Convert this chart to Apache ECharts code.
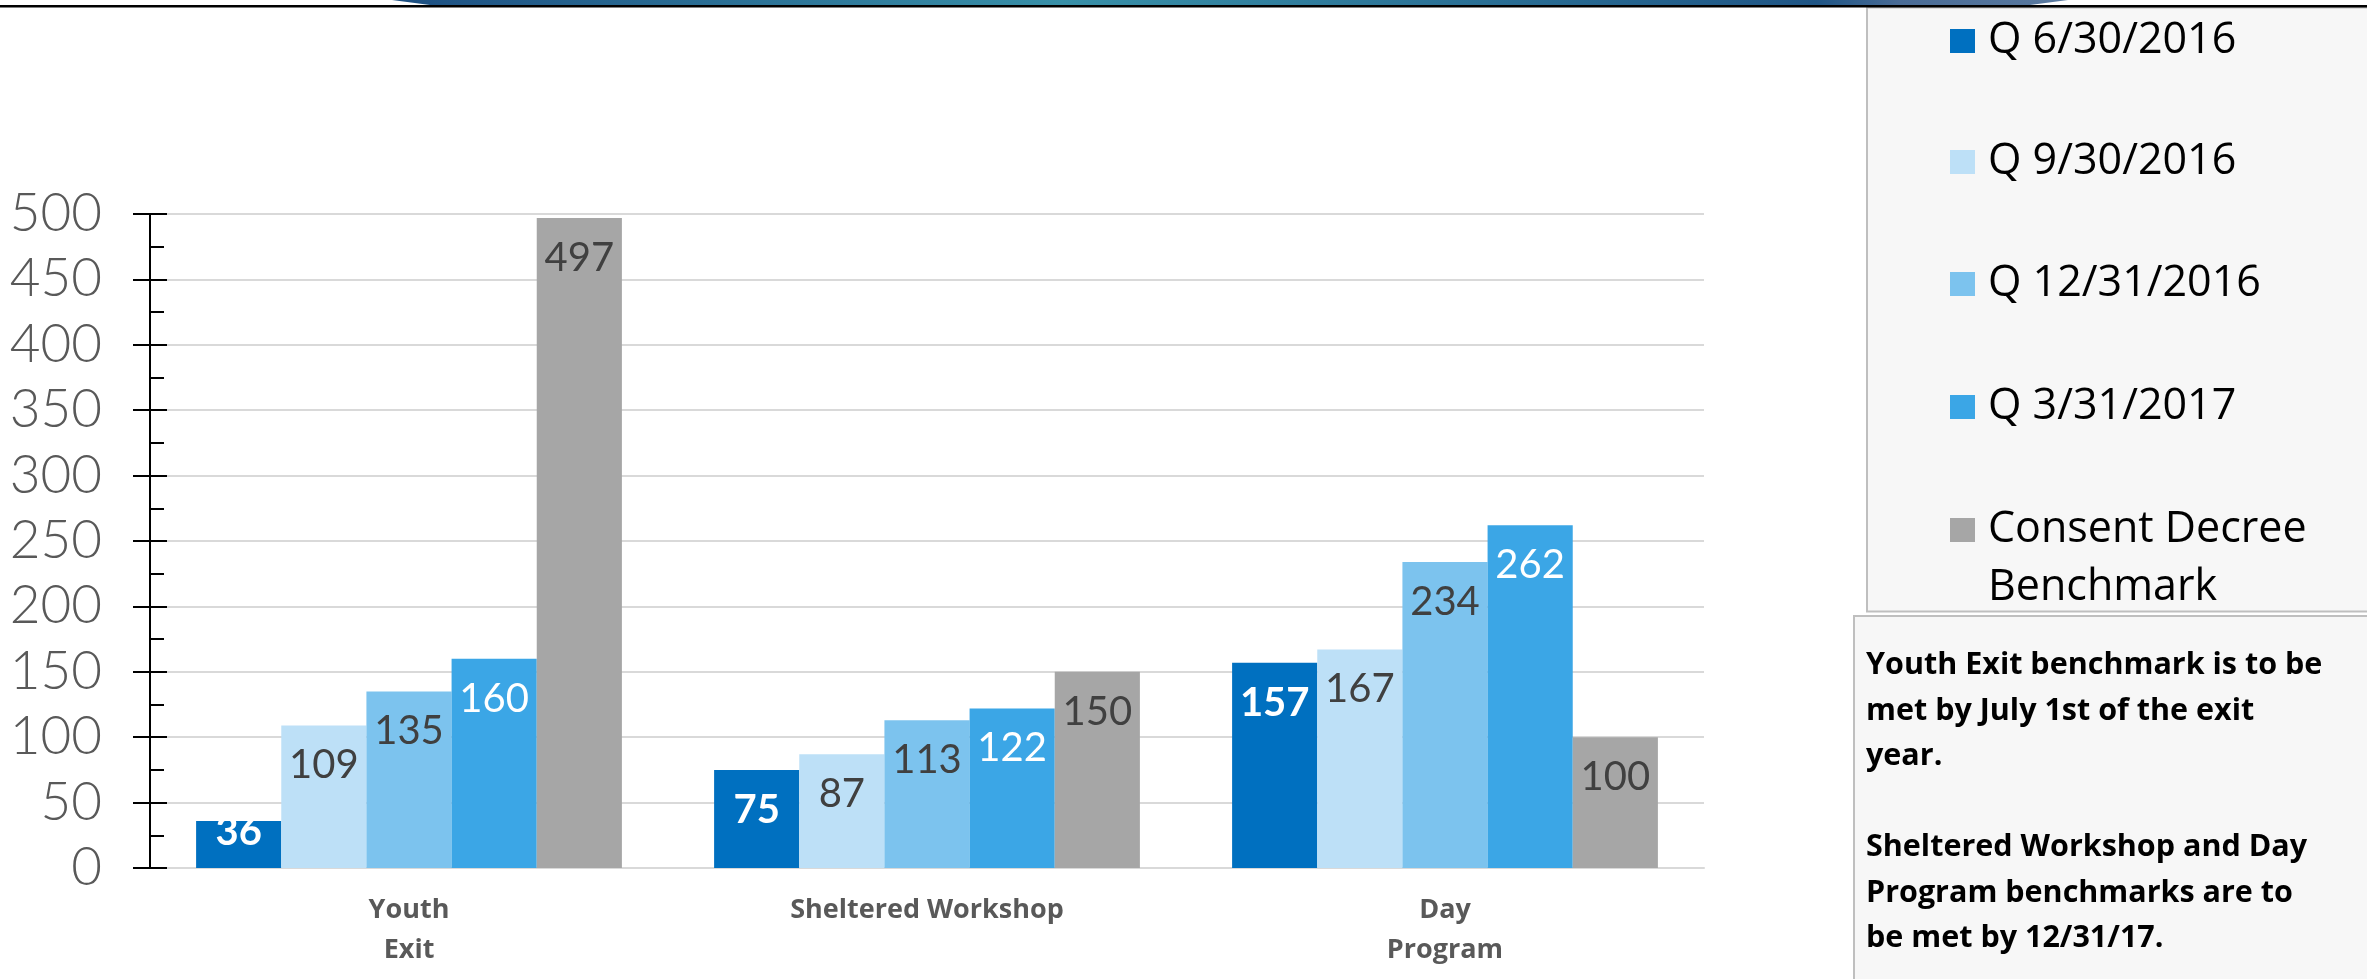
<!DOCTYPE html>
<html><head><meta charset="utf-8">
<script src="https://cdn.jsdelivr.net/npm/echarts@6/dist/echarts.min.js"></script>
<style>html,body{margin:0;padding:0;background:#fff}#c{width:2367px;height:979px}</style>
</head><body><div id="c"></div>
<script>
// ---- data ----
const categories = ['Youth\nExit', 'Sheltered Workshop', 'Day\nProgram'];
const seriesNames = ['Q 6/30/2016', 'Q 9/30/2016', 'Q 12/31/2016', 'Q 3/31/2017', 'Consent Decree Benchmark'];
const q6_30_2016 = [36, 75, 157];
const q9_30_2016 = [109, 87, 167];
const q12_31_2016 = [135, 113, 234];
const q3_31_2017 = [160, 122, 262];
const benchmark = [497, 150, 100];
const yMin = 0, yMax = 500, yStep = 50;
const noteLines = [
  'Youth Exit benchmark is to be',
  'met by July 1st of the exit',
  'year.',
  '',
  'Sheltered Workshop and Day',
  'Program benchmarks are to',
  'be met by 12/31/17.'
];

// ---- styles ----
const seriesValues = [q6_30_2016, q9_30_2016, q12_31_2016, q3_31_2017, benchmark];
const colors = ['#0070C0', '#BDE0F7', '#7CC3EE', '#3BA6E6', '#A6A6A6'];
const labelColors = ['#ffffff', '#404040', '#404040', '#ffffff', '#404040'];
const labelWeights = ['bold', 'normal', 'normal', 'normal', 'normal'];
const numFont = 'Lato, "Open Sans", sans-serif';
const legendCenters = [41, 162, 284, 407, 530];
const legendLine = 58;

const chart = echarts.init(document.getElementById('c'), null, {renderer: 'canvas'});

const series = seriesNames.map((name, i) => ({
  name: name,
  type: 'bar',
  yAxisIndex: 0,
  // short bars get their label pushed up to the bar top (as in the source chart)
  data: seriesValues[i].map(v => ({value: v, label: {distance: v < 50 ? -9 : 20}})),
  barGap: '0%',
  barCategoryGap: '17.8%',
  itemStyle: {color: colors[i]},
  label: {
    show: true,
    position: 'insideTop',
    distance: 20,
    color: labelColors[i],
    fontFamily: numFont,
    fontWeight: labelWeights[i],
    fontSize: 40
  },
  emphasis: {disabled: true}
}));

const legends = seriesNames.map((name, i) => {
  const multi = name === 'Consent Decree Benchmark';
  return {
    data: [name],
    orient: 'vertical',
    left: 1950,
    top: multi ? legendCenters[i] - legendLine * 1.5 : legendCenters[i] - legendLine / 2,
    padding: 0,
    icon: 'rect',
    itemWidth: 25,
    itemHeight: 24,
    selectedMode: false,
    formatter: multi ? () => '\nConsent Decree\nBenchmark' : undefined,
    textStyle: {
      fontFamily: '"Open Sans", sans-serif',
      fontSize: 43,
      color: '#000',
      lineHeight: legendLine,
      padding: [0, 0, 0, 8]
    }
  };
});

const option = {
  animation: false,
  backgroundColor: '#ffffff',
  grid: {left: 150, right: 663, top: 214, bottom: 111, containLabel: false, outerBoundsMode: 'none'},
  xAxis: {
    type: 'category',
    data: categories,
    axisLine: {show: true, lineStyle: {color: '#D9D9D9', width: 2}},
    axisTick: {show: false},
    axisLabel: {
      color: '#595959',
      fontFamily: '"Open Sans", sans-serif',
      fontWeight: 'bold',
      fontSize: 27,
      lineHeight: 40,
      margin: 22
    }
  },
  yAxis: [
    {
      type: 'value', min: yMin, max: yMax, interval: yStep,
      position: 'left',
      axisLine: {show: true, lineStyle: {color: '#000', width: 2}},
      axisTick: {show: true, inside: false, length: 17, lineStyle: {color: '#000', width: 2}},
      axisLabel: {color: '#595959', fontFamily: numFont, fontWeight: 300, fontSize: 53, margin: 48},
      splitLine: {show: true, lineStyle: {color: '#D9D9D9', width: 2}}
    },
    {
      type: 'value', min: yMin, max: yMax, interval: yStep,
      position: 'left',
      axisLine: {show: false},
      axisTick: {show: true, inside: true, length: 17, lineStyle: {color: '#000', width: 2}},
      minorTick: {show: true, splitNumber: 2, length: 14, lineStyle: {color: '#000', width: 2}},
      axisLabel: {show: false},
      splitLine: {show: false}
    }
  ],
  legend: legends,
  series: series,
  graphic: [
    {
      type: 'polygon', z: 1,
      shape: {points: [[392, 0], [2068, 0], [2030, 5], [430, 5]]},
      style: {
        fill: new echarts.graphic.LinearGradient(0, 0, 1, 0, [
          {offset: 0, color: '#1d4f82'},
          {offset: 0.4, color: '#3890a8'},
          {offset: 0.85, color: '#1f5585'},
          {offset: 0.9, color: '#4a6c96'},
          {offset: 1, color: '#5a7aa0'}
        ])
      }
    },
    {type: 'rect', z: 2, shape: {x: 0, y: 5, width: 2367, height: 2.5}, style: {fill: '#000'}},
    {type: 'rect', z: -1, shape: {x: 1867, y: 7.5, width: 510, height: 604}, style: {fill: '#F7F7F7', stroke: '#BFBFBF', lineWidth: 2}},
    {type: 'rect', z: -1, shape: {x: 1854, y: 616, width: 520, height: 380}, style: {fill: '#F7F7F7', stroke: '#BFBFBF', lineWidth: 2}},
    {
      type: 'text', z: 5,
      x: 1866, y: 643,
      style: {
        text: noteLines.join('\n'),
        font: 'bold 30.5px "Open Sans", sans-serif',
        lineHeight: 45.5,
        fill: '#000',
        verticalAlign: 'top',
        align: 'left'
      }
    }
  ]
};
chart.setOption(option);
</script>
</body></html>
